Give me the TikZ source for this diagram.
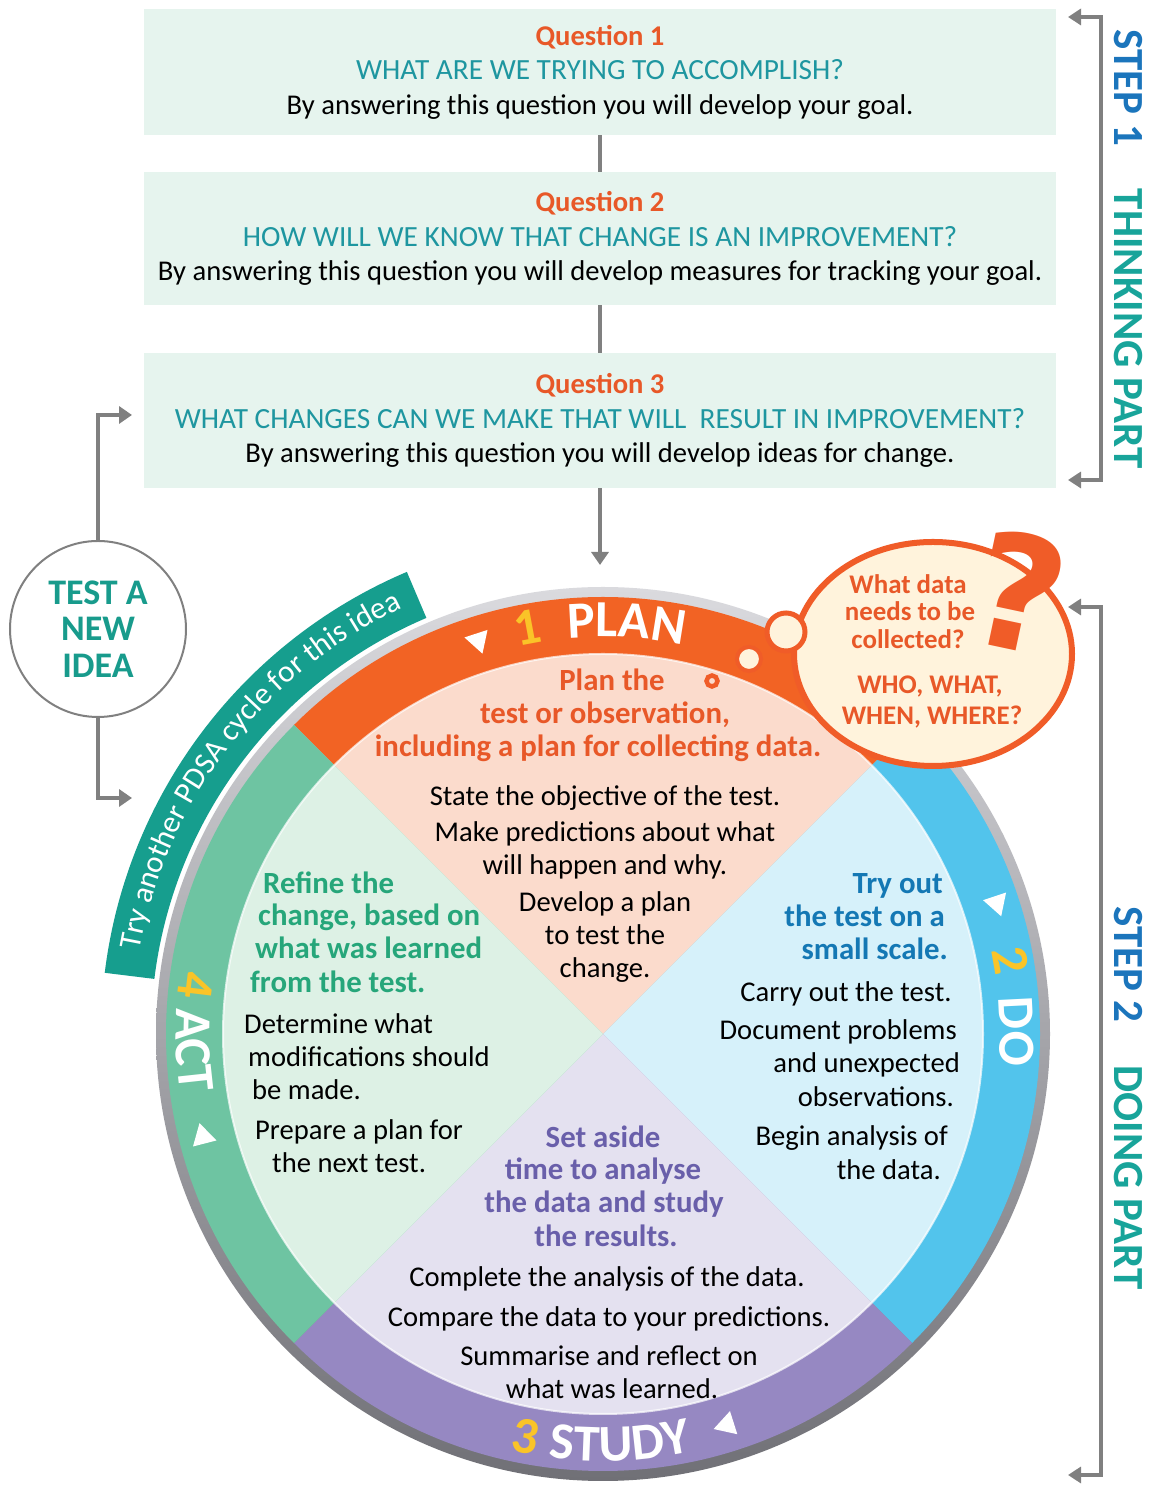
\documentclass[tikz,border=0pt]{standalone}
\usepackage{fontspec}
\setmainfont{Carlito}
\newfontfamily\qmarkfont{DejaVu Sans}
\usetikzlibrary{arrows.meta,decorations.text,shapes.geometric}
\definecolor{boxfill}{RGB}{230,244,238}
\definecolor{qorange}{RGB}{232,88,40}
\definecolor{qteal}{RGB}{30,150,160}
\definecolor{linegray}{RGB}{128,128,128}
\definecolor{planband}{RGB}{242,99,36}
\definecolor{doband}{RGB}{82,196,236}
\definecolor{studyband}{RGB}{150,136,194}
\definecolor{actband}{RGB}{110,196,162}
\definecolor{planlight}{RGB}{251,219,204}
\definecolor{dolight}{RGB}{214,241,250}
\definecolor{studylight}{RGB}{228,225,240}
\definecolor{actlight}{RGB}{221,241,229}
\definecolor{tealband}{RGB}{22,158,142}
\definecolor{numgold}{RGB}{250,196,40}
\definecolor{actgreen}{RGB}{38,166,122}
\definecolor{doblue}{RGB}{20,120,180}
\definecolor{studypurple}{RGB}{105,95,170}
\definecolor{stepblue}{RGB}{27,117,188}
\definecolor{stepteal}{RGB}{24,164,154}
\definecolor{ideateal}{RGB}{24,155,140}
\definecolor{bubblefill}{RGB}{255,243,220}
\definecolor{bubbleline}{RGB}{240,92,40}
\definecolor{rimlight}{RGB}{218,218,222}
\definecolor{rimdark}{RGB}{112,112,118}
\newcommand\ringnumfont{\fontsize{52pt}{52pt}\selectfont\bfseries\color{numgold}}
\newcommand\ringwordfont{\fontsize{52pt}{52pt}\selectfont\bfseries\color{white}}
\newcommand\tryfont{\fontsize{31pt}{31pt}\selectfont\color{white}}
\tikzset{
  qbox/.style={fill=boxfill, draw=none, minimum width=912pt, inner sep=0pt, align=center, font=\fontsize{28.6pt}{34.5pt}\selectfont},
  conn/.style={draw=linegray, line width=4pt},
  arrowend/.style={-{Triangle[width=17pt,length=13pt]}},
  bracket/.style={draw=linegray, line width=3.5pt, {Triangle[width=16pt,length=13pt]}-{Triangle[width=16pt,length=13pt]}},
  body/.style={inner sep=0pt, anchor=base, text=black, font=\fontsize{28.6pt}{34pt}\selectfont},
  head/.style={inner sep=0pt, anchor=base, font=\fontsize{30.8pt}{34pt}\selectfont\bfseries},
  bubtxt/.style={inner sep=0pt, anchor=base, text=qorange, font=\fontsize{26.9pt}{30pt}\selectfont\bfseries},
  tri/.style={regular polygon, regular polygon sides=3, fill=white, minimum size=28pt, inner sep=0pt, draw=none},
  ringlabel/.style={decorate, decoration={text along path, text align=center, text={#1}}},
}
\newcommand\tealline[1]{\textcolor{qteal}{\fontsize{29.3pt}{34.5pt}\selectfont #1}}
\begin{document}
\begin{tikzpicture}[x=1pt,y=1pt]
\useasboundingbox (0,0) rectangle (1152,1488);
\fill[white] (0,0) rectangle (1152,1488);

% ---------- question boxes ----------
\node[qbox, minimum height=126pt] (q1) at (600,1416) {\textcolor{qorange}{\bfseries Question 1}\\ \tealline{WHAT ARE WE TRYING TO ACCOMPLISH?}\\ By answering this question you will develop your goal.};
\node[qbox, minimum height=133pt] (q2) at (600,1249.5) {\textcolor{qorange}{\bfseries Question 2}\\ \tealline{HOW WILL WE KNOW THAT CHANGE IS AN IMPROVEMENT?}\\ By answering this question you will develop measures for tracking your goal.};
\node[qbox, minimum height=135pt] (q3) at (600,1067.5) {\textcolor{qorange}{\bfseries Question 3}\\ \tealline{WHAT CHANGES CAN WE MAKE THAT WILL\ \ RESULT IN IMPROVEMENT?}\\ By answering this question you will develop ideas for change.};

\draw[conn] (q1.south) -- (q2.north);
\draw[conn] (q2.south) -- (q3.north);
\coordinate (plantop) at (600,923);
\draw[conn, arrowend] (q3.south) -- (plantop);

% ---------- PDSA wheel ----------
\begin{scope}[shift={(603,454)}]
  % outer teal band
  \fill[tealband] (113:502) arc[start angle=113,end angle=173,radius=502] -- (173:452) arc[start angle=173,end angle=113,radius=452] -- cycle;
  \path[ringlabel={|\tryfont|Try another PDSA cycle for this idea}] (173:471) arc[start angle=173,end angle=112,radius=471];
  % rim
  \shade[top color=rimlight, bottom color=rimdark] (0,0) circle[radius=447];
  % bands
  \fill[planband] (0,0) -- (45:437) arc[start angle=45,end angle=135,radius=437] -- cycle;
  \fill[doband] (0,0) -- (-45:437) arc[start angle=-45,end angle=45,radius=437] -- cycle;
  \fill[studyband] (0,0) -- (-135:437) arc[start angle=-135,end angle=-45,radius=437] -- cycle;
  \fill[actband] (0,0) -- (135:437) arc[start angle=135,end angle=225,radius=437] -- cycle;
  % inner sectors
  \fill[planlight] (0,0) -- (45:380) arc[start angle=45,end angle=135,radius=380] -- cycle;
  \fill[dolight] (0,0) -- (-45:380) arc[start angle=-45,end angle=45,radius=380] -- cycle;
  \fill[studylight] (0,0) -- (-135:380) arc[start angle=-135,end angle=-45,radius=380] -- cycle;
  \fill[actlight] (0,0) -- (135:380) arc[start angle=135,end angle=225,radius=380] -- cycle;
  \draw[white, opacity=0.7, line width=2pt] (0,0) circle[radius=380];
  % ring labels
  \path[ringlabel={|\ringnumfont|1}] (120.6:397) arc[start angle=120.6,end angle=80.6,radius=397];
  \path[ringlabel={|\ringwordfont|PLAN}] (111.7:397) arc[start angle=111.7,end angle=61.7,radius=397];
  \path[ringlabel={|\ringnumfont|2}] (30.2:397) arc[start angle=30.2,end angle=-9.8,radius=397];
  \path[ringlabel={|\ringwordfont|DO}] (20.3:397) arc[start angle=20.3,end angle=-19.7,radius=397];
  \path[ringlabel={|\ringnumfont|3}] (-120.9:427) arc[start angle=-120.9,end angle=-80.9,radius=427];
  \path[ringlabel={|\ringwordfont|STUDY}] (-112.6:427) arc[start angle=-112.6,end angle=-62.6,radius=427];
  \path[ringlabel={|\ringnumfont|4}] (153.2:427) arc[start angle=153.2,end angle=193.2,radius=427];
  \path[ringlabel={|\ringwordfont|ACT}] (162.2:427) arc[start angle=162.2,end angle=202.2,radius=427];
  % direction triangles
  \node[tri, rotate=-162] (triplan) at (107.6:413) {};
  \node[tri, rotate=-161.6] (trido) at (18.4:415) {};
  \node[tri, rotate=107.6] (tristudy) at (-72.4:410) {};
  \node[tri, rotate=14.4] (triact) at (194.4:413) {};
\end{scope}

% ---------- PLAN quadrant ----------
\node[head, text=qorange] (ph1) at (612,797) {Plan the};
\node[head, text=qorange] (ph2) at (605,764) {test or observation,};
\node[head, text=qorange] (ph3) at (598,731) {including a plan for collecting data.};
\node[body] (pb1) at (605,682) {State the objective of the test.};
\node[body] (pb2) at (605,646) {Make predictions about what};
\node[body] (pb3) at (605,613) {will happen and why.};
\node[body] (pb4) at (605,576) {Develop a plan};
\node[body] (pb5) at (605,543) {to test the};
\node[body] (pb6) at (605,510) {change.};

% ---------- DO quadrant ----------
\node[head, text=doblue, anchor=base east] (dh1) at (943,594) {Try out};
\node[head, text=doblue, anchor=base east] (dh2) at (945,561) {the test on a};
\node[head, text=doblue, anchor=base east] (dh3) at (948,528) {small scale.};
\node[body] (db1) at (846,486) {Carry out the test.};
\node[body, anchor=base east] (db2) at (957,448) {Document problems};
\node[body, anchor=base east] (db3) at (960,415) {and unexpected};
\node[body, anchor=base east] (db4) at (954,381) {observations.};
\node[body, anchor=base east] (db5) at (948,342) {Begin analysis of};
\node[body, anchor=base east] (db6) at (941,308) {the data.};

% ---------- ACT quadrant ----------
\node[head, text=actgreen, anchor=base west] (ah1) at (263,594) {Refine the};
\node[head, text=actgreen, anchor=base west] (ah2) at (258,562) {change, based on};
\node[head, text=actgreen, anchor=base west] (ah3) at (255,529) {what was learned};
\node[head, text=actgreen, anchor=base west] (ah4) at (250,495) {from the test.};
\node[body, anchor=base west] (ab1) at (244,454) {Determine what};
\node[body, anchor=base west] (ab2) at (248,421) {modifications should};
\node[body, anchor=base west] (ab3) at (252,388) {be made.};
\node[body, anchor=base west] (ab4) at (255,348) {Prepare a plan for};
\node[body, anchor=base west] (ab5) at (272,315) {the next test.};

% ---------- STUDY quadrant ----------
\node[head, text=studypurple] (sh1) at (603,340) {Set aside};
\node[head, text=studypurple] (sh2) at (603,308) {time to analyse};
\node[head, text=studypurple] (sh3) at (604,275) {the data and study};
\node[head, text=studypurple] (sh4) at (606,241) {the results.};
\node[body] (sb1) at (607,201) {Complete the analysis of the data.};
\node[body] (sb2) at (609,161) {Compare the data to your predictions.};
\node[body] (sb3) at (609,122) {Summarise and reflect on};
\node[body] (sb4) at (612,89) {what was learned.};

% ---------- thought bubble ----------
\node[ellipse, draw=bubbleline, fill=bubblefill, line width=6pt, minimum width=278pt, minimum height=224pt, inner sep=0pt] (bubble) at (933,834) {};
\node[circle, draw=bubbleline, fill=planlight, line width=4.5pt, minimum size=11pt, inner sep=0pt] (trail1) at (712,807) {};
\node[circle, draw=bubbleline, fill=bubblefill, line width=4pt, minimum size=24pt, inner sep=0pt] (trail2) at (749,829) {};
\node[circle, draw=bubbleline, fill=bubblefill, line width=5pt, minimum size=38pt, inner sep=0pt] (trail3) at (786,856) {};
\node[bubtxt] (bt1) at (908,894) {What data};
\node[bubtxt] (bt2) at (910,867) {needs to be};
\node[bubtxt] (bt3) at (908,839) {collected?};
\node[bubtxt] (bt4) at (930,794) {WHO, WHAT,};
\node[bubtxt] (bt5) at (932,763) {WHEN, WHERE?};
\node[rotate=-12, inner sep=0pt, text=bubbleline, font=\qmarkfont\fontsize{158pt}{158pt}\selectfont\bfseries] (qmark) at (1020,896) {?};

% ---------- test a new idea ----------
\node[circle, draw=linegray, line width=2pt, fill=white, minimum size=176pt, inner sep=0pt, align=center, text=ideateal, font=\fontsize{36pt}{36.5pt}\selectfont\bfseries] (idea) at (98,859) {TEST A\\NEW\\IDEA};
\coordinate (ideaup) at (132,1073);
\coordinate (ideadown) at (132,690);
\draw[conn, arrowend] (idea.north) |- (ideaup);
\draw[conn, arrowend] (idea.south) |- (ideadown);

% ---------- step brackets ----------
\coordinate (s1a) at (1068,1471);
\coordinate (s1c) at (1101,1008);
\coordinate (s1b) at (1068,1008);
\draw[bracket] (s1a) -| (s1c) -- (s1b);
\coordinate (s2a) at (1068,881);
\coordinate (s2c) at (1101,13);
\coordinate (s2b) at (1068,13);
\draw[bracket] (s2a) -| (s2c) -- (s2b);
\node[rotate=-90, inner sep=0pt, font=\fontsize{43pt}{43pt}\selectfont\bfseries] (step1) at (1128,1239) {\textcolor{stepblue}{STEP 1}\hspace{43pt}\textcolor{stepteal}{THINKING PART}};
\node[rotate=-90, inner sep=0pt, font=\fontsize{43pt}{43pt}\selectfont\bfseries] (step2) at (1128,390) {\textcolor{stepblue}{STEP 2}\hspace{43pt}\textcolor{stepteal}{DOING PART}};
\end{tikzpicture}
\end{document}
